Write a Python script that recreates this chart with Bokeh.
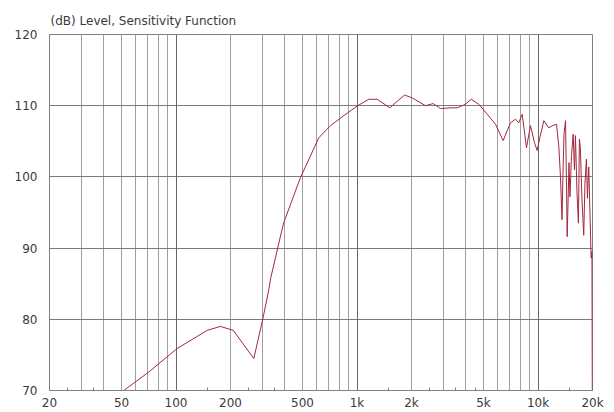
from bokeh.plotting import figure
from bokeh.models import Range1d, FixedTicker, Grid
from bokeh.embed import file_html
from bokeh.resources import INLINE

# ---- data ----
freq_hz = [50, 52, 70, 101.5, 148.7, 176, 207, 269, 302, 325, 333, 386, 394, 487,
           615, 714, 845, 1010, 1162, 1293, 1517, 1830, 2018, 2389, 2636, 2893,
           3285, 3577, 3973, 4274, 4710, 5238, 5821, 6422, 6757, 7047, 7510, 7830,
           8178, 8635, 9086, 9564, 9896, 10230, 10770, 11470, 12040, 12650, 13030,
           13310, 13570, 13740, 13920, 14190, 14370, 14490, 14640, 14830, 15020,
           15310, 15640, 15900, 16100, 16410, 16720, 16930, 17150, 17480, 17890,
           18160, 18510, 18750, 19070, 19360, 19660, 19860, 19990]
level_db = [69.6, 70.1, 72.5, 75.9, 78.45, 79.0, 78.45, 74.5, 80.1, 84.05, 85.7, 92.7,
            93.6, 99.9, 105.5, 107.2, 108.6, 110.0, 110.9, 110.9, 109.7, 111.5, 111.1,
            110.0, 110.3, 109.6, 109.7, 109.7, 110.2, 110.9, 110.2, 108.8, 107.4,
            105.1, 106.5, 107.6, 108.1, 107.6, 108.8, 104.1, 107.2, 104.8, 103.7,
            105.5, 107.9, 106.9, 107.2, 107.4, 104.3, 100.0, 94.0, 100.5, 106.0,
            107.9, 99.0, 91.6, 96.0, 102.0, 97.2, 103.0, 106.0, 101.0, 105.8, 98.0,
            93.5, 105.3, 103.9, 97.0, 91.8, 99.0, 102.5, 97.0, 101.4, 95.0, 88.6,
            89.5, 60.0]

x_major_ticks = [20, 50, 100, 200, 500, 1000, 2000, 5000, 10000, 20000]
x_major_labels = ["20", "50", "100", "200", "500", "1k", "2k", "5k", "10k", "20k"]
x_minor_ticks = [25, 35, 150, 250, 350, 1500, 2500, 3500, 4500, 15000]
x_grid_freqs = [20, 30, 40, 50, 60, 70, 80, 90, 200, 300, 400, 500, 600, 700, 800,
                900, 2000, 3000, 4000, 5000, 6000, 7000, 8000, 9000, 20000]
x_decade_freqs = [100, 1000, 10000]
y_ticks = [70, 80, 90, 100, 110, 120]
title_text = "(dB)  Level,  Sensitivity Function"

FONT = "DejaVu Sans"
TXT = "#3a3a3a"

p = figure(width=614, height=412, x_axis_type="log",
           x_range=Range1d(20, 20000), y_range=Range1d(70, 120),
           output_backend="svg", toolbar_location=None,
           min_border_left=49, min_border_right=22, min_border_top=34,
           min_border_bottom=20)

p.title.text = title_text
p.title.align = "left"
p.title.offset = 1
p.title.text_font = FONT
p.title.text_font_size = "12px"
p.title.text_font_style = "normal"
p.title.text_color = TXT
p.title.standoff = 14

p.background_fill_color = "white"
p.border_fill_color = "white"
p.outline_line_color = "#808080"
p.outline_line_width = 1

# x axis
xa = p.xaxis[0]
xa.ticker = FixedTicker(ticks=x_major_ticks, minor_ticks=x_minor_ticks)
xa.major_label_overrides = {t: l for t, l in zip(x_major_ticks, x_major_labels)}
xa.major_tick_in = 0
xa.major_tick_out = 0
xa.minor_tick_in = 3
xa.minor_tick_out = 0
xa.minor_tick_line_color = "#808080"
xa.axis_line_color = "#808080"
xa.major_label_text_font = FONT
xa.major_label_text_font_size = "12px"
xa.major_label_text_color = TXT
xa.major_label_standoff = 5

# y axis
ya = p.yaxis[0]
ya.ticker = FixedTicker(ticks=y_ticks)
ya.major_tick_in = 0
ya.major_tick_out = 0
ya.minor_tick_line_color = None
ya.axis_line_color = "#808080"
ya.major_label_text_font = FONT
ya.major_label_text_font_size = "12px"
ya.major_label_text_color = TXT
ya.major_label_standoff = 12

# grids
p.xgrid.ticker = FixedTicker(ticks=x_grid_freqs)
p.xgrid.grid_line_color = "#a0a0a0"
p.xgrid.grid_line_width = 1
p.add_layout(Grid(dimension=0, ticker=FixedTicker(ticks=x_decade_freqs),
                  grid_line_color="#686868", grid_line_width=1))
p.ygrid.ticker = FixedTicker(ticks=y_ticks)
p.ygrid.grid_line_color = "#7a7a7a"
p.ygrid.grid_line_width = 1

p.line(freq_hz, level_db, line_color="#a3283e", line_width=1.0)

open("out.html", "w").write(file_html(p, INLINE))
